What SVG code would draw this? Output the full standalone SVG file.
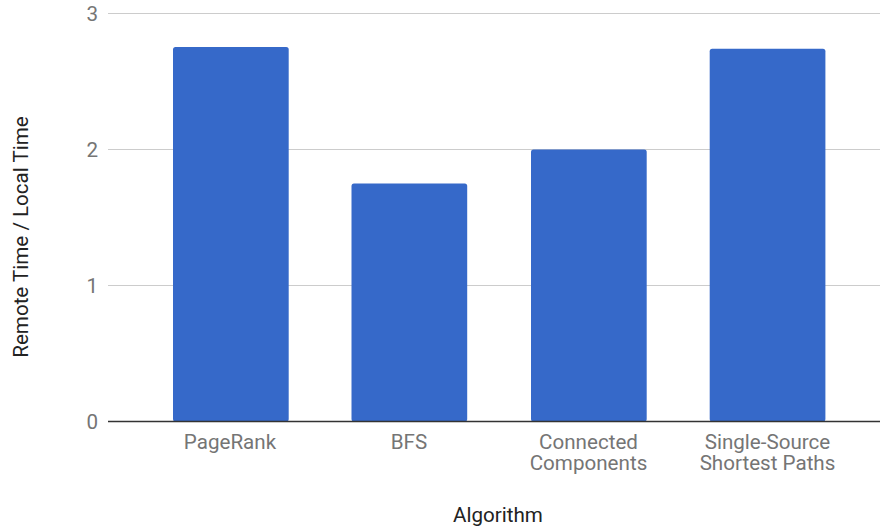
<svg xmlns="http://www.w3.org/2000/svg" width="880" height="527" viewBox="0 0 880 527">
<style>
.grid{stroke:#cccccc;stroke-width:1.2}
.base{stroke:#333333;stroke-width:1.5}
.bar{fill:#3669c9}
.tick{font-family:Roboto,"Liberation Sans",sans-serif;font-size:20.6px;fill:#757575}
.title{font-family:Roboto,"Liberation Sans",sans-serif;font-size:20.6px;fill:#222222}
</style>
<rect width="880" height="527" fill="#ffffff"/>
<g id="gridlines">
<line class="grid" x1="108" y1="13.5" x2="880" y2="13.5"/>
<line class="grid" x1="108" y1="149.5" x2="880" y2="149.5"/>
<line class="grid" x1="108" y1="285.5" x2="880" y2="285.5"/>
</g>
<g id="y-ticks" class="tick" text-anchor="end">
<text x="98" y="20.5">3</text>
<text x="98" y="156.5">2</text>
<text x="98" y="292.5">1</text>
<text x="98" y="428.5">0</text>
</g>
<g id="bar-pagerank"><rect class="bar" x="173" y="47" width="115.7" height="374.5" rx="2.5"/></g>
<g id="bar-bfs"><rect class="bar" x="351.5" y="183.5" width="115.7" height="238" rx="2.5"/></g>
<g id="bar-cc"><rect class="bar" x="531" y="149.5" width="115.7" height="272" rx="2.5"/></g>
<g id="bar-sssp"><rect class="bar" x="709.7" y="48.7" width="115.7" height="372.8" rx="2.5"/></g>
<line class="base" x1="108" y1="421.5" x2="880" y2="421.5"/>
<g id="x-labels" class="tick" text-anchor="middle">
<text x="230" y="449">PageRank</text>
<text x="409" y="449">BFS</text>
<text x="588.5" y="449">Connected</text>
<text x="588.5" y="469.5">Components</text>
<text x="767.5" y="449">Single-Source</text>
<text x="767.5" y="469.5">Shortest Paths</text>
</g>
<text class="title" x="498" y="521.5" text-anchor="middle">Algorithm</text>
<text class="title" transform="translate(28,237) rotate(-90)" text-anchor="middle">Remote Time / Local Time</text>
</svg>
